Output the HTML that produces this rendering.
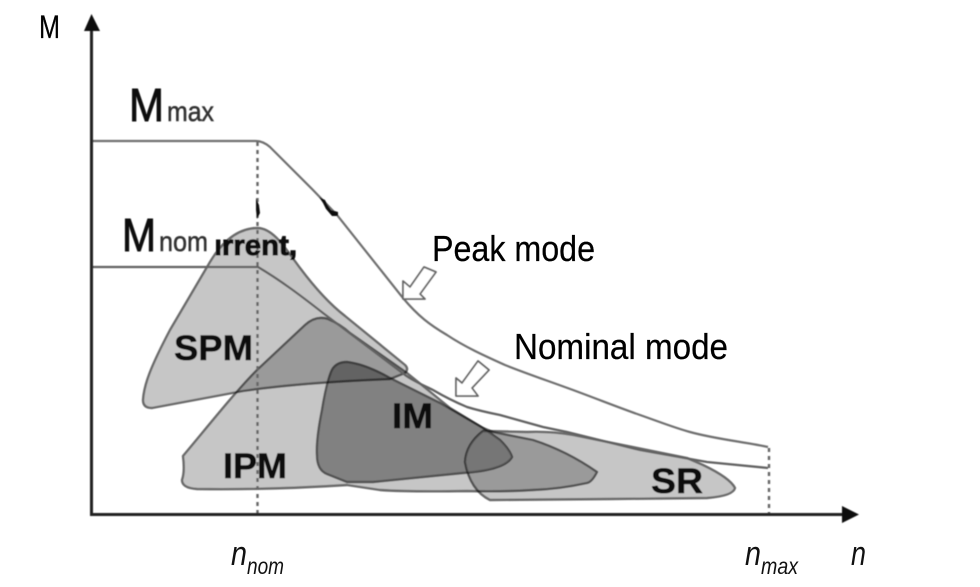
<!DOCTYPE html>
<html>
<head>
<meta charset="utf-8">
<style>
html,body{margin:0;padding:0;background:#fff;width:980px;height:587px;overflow:hidden}
svg{display:block}
text{font-family:"Liberation Sans",sans-serif}
.b{font-weight:bold;fill:#0a0a0a;font-size:35px;stroke:#0a0a0a;stroke-width:.5px}
.m{fill:#111;stroke:#111;stroke-width:.9px}
.t{fill:#333;stroke:#333;stroke-width:.5px}
.n{font-family:"Liberation Sans Narrow","Liberation Sans",sans-serif;fill:#000;stroke:#000;stroke-width:.25px}
.i{font-style:italic;fill:#111}
.s{mix-blend-mode:multiply;stroke:#6a6a6a;stroke-width:2.4;stroke-linejoin:round}
</style>
</head>
<body>
<svg width="980" height="587" viewBox="0 0 980 587" xmlns="http://www.w3.org/2000/svg">
<defs>
<filter id="f" x="-5%" y="-5%" width="110%" height="110%"><feGaussianBlur stdDeviation="0.6"/></filter>
<clipPath id="c"><rect x="216" y="236" width="90" height="30"/></clipPath>
<clipPath id="im"><path d="M347,362 Q335,362 331,372 Q326,385 322,410 Q316,440 317,455 Q317,470 327,474 L347,482 L373,482 L463,473 Q505,470 512,457 Q510,450 500,440 L483,428 L440,403 L390,378 Q365,364 347,362 Z"/></clipPath>
</defs>
<rect width="980" height="587" fill="#fff"/>
<g filter="url(#f)" style="isolation:isolate">
  <!-- SPM -->
  <path class="s" fill="#c6c6c6" d="M143,400 C144,385 150,368 170,330 L210,262 C222,242 238,228 258,228 C274,229 285,248 300,268 C318,292 332,306 345,316 L405,365 Q409,369 405,373 L390,379 C340,381 290,384 243,391 L152,408 Q143,408 143,400 Z"/>
  <!-- IPM -->
  <path class="s" fill="#c6c6c6" d="M183,456 C205,430 235,392 257,370 L305,325 Q316,315 328,319 Q340,324 350,333 L407,373 L450,408 L483,428 L493,432 L533,440 Q567,451 597,472 Q592,482 587,483 Q560,489 533,490 Q500,492 467,491 Q410,492 380,490 L347,485 Q270,490 197,489 Q182,488 182,480 Q185,472 183,456 Z"/>
  <!-- IM -->
  <path class="s" fill="#a6a6a6" d="M347,362 Q335,362 331,372 Q326,385 322,410 Q316,440 317,455 Q317,470 327,474 L347,482 L373,482 L463,473 Q505,470 512,457 Q510,450 500,440 L483,428 L440,403 L390,378 Q365,364 347,362 Z"/>
  <!-- SR -->
  <path class="s" fill="#c6c6c6" d="M465,462 Q466,444 483,431 L527,432 Q550,431 573,435 L687,458 L703,465 Q730,478 735,488 Q733,496 707,498 L610,499 L490,500 Q470,490 465,462 Z"/>
  <!-- Lighten the IM and SR overlap -->
  <g clip-path="url(#im)"><path fill="#fff" opacity=".12" d="M465,462 Q466,444 483,431 L527,432 L527,500 L490,500 Q470,490 465,462 Z"/></g>
  <!-- Curves -->
  <path fill="none" stroke="#707070" stroke-width="2.2" d="M92,141 L256,141 Q263,141 270,147 L313,190 L337,215 L403,298 C418,316 430,325 447,335 C465,347 485,356 505,365 C525,373 540,378 573,390 C600,400 620,408 640,415 C660,422 675,428 690,432 C715,439 745,442 768,447"/>
  <path fill="none" stroke="#626262" stroke-width="2.3" d="M92,267 L258,267 C280,280 300,295 323,313 L372,350 L405,375 C415,382 425,386 433,390 C445,397 455,402 467,407 C480,411 490,413 500,415 L543,427 L567,432 L640,450 L707,462 L768,468"/>
  <!-- Dashed guides -->
  <path fill="none" stroke="#666" stroke-width="2.400" stroke-dasharray="4 4" d="M257.500,142 V514 M769,448 V514"/>
  <!-- Hollow arrows -->
  <path fill="#fff" stroke="#666" stroke-width="1.800" stroke-linejoin="round" d="M403,299 L403,281 L410,287 L424,267 L436,272 L420,294 L425,299 Z"/>
  <path fill="#fff" stroke="#666" stroke-width="1.800" stroke-linejoin="round" d="M456,396 L456,378 L462,383 L478,361 L489,370 L472,388 L478,396 Z"/>
  <!-- Ink blobs -->
  <path fill="#111" d="M256,198 L259,205 L260,213 L257,219 L256,210 Z M319,197 L325,200 L327,204 L331,210 L338,212 L338,216 L332,216 L326,209 L323,203 Z"/>
  <!-- Clipped word -->
  <g clip-path="url(#c)"><text class="b" x="204" y="255" style="font-size:29px;stroke-width:1px" textLength="93" lengthAdjust="spacingAndGlyphs">urrent,</text></g>
  <!-- Region labels -->
  <text class="b" x="174" y="360" textLength="79" lengthAdjust="spacingAndGlyphs">SPM</text>
  <text class="b" x="223" y="478" textLength="64" lengthAdjust="spacingAndGlyphs">IPM</text>
  <text class="b" x="392" y="428" textLength="41" lengthAdjust="spacingAndGlyphs">IM</text>
  <text class="b" x="651" y="493" textLength="52" lengthAdjust="spacingAndGlyphs">SR</text>
  <!-- M labels -->
  <text class="m" x="129" y="121" font-size="46" textLength="35" lengthAdjust="spacingAndGlyphs">M</text>
  <text class="t" x="167" y="121" font-size="28" textLength="47" lengthAdjust="spacingAndGlyphs">max</text>
  <text class="m" x="122" y="251" font-size="46" textLength="34" lengthAdjust="spacingAndGlyphs">M</text>
  <text class="t" x="159" y="251" font-size="28" textLength="49" lengthAdjust="spacingAndGlyphs">nom</text>
</g>
<!-- Axes -->
<g filter="url(#f)">
<path fill="none" stroke="#222" stroke-width="3" d="M91.500,516 V28 M90,514.500 H846"/>
<path fill="#111" d="M91.500,14 L100,31 L84,31 Z M859,514.500 L842,506 L842,523 Z"/>
</g>
<!-- Crisp labels -->
<text class="n" x="39" y="38" font-size="32" textLength="21" lengthAdjust="spacingAndGlyphs">M</text>
<text class="n" x="432" y="261" font-size="36" textLength="163" lengthAdjust="spacingAndGlyphs">Peak mode</text>
<text class="n" x="514" y="359" font-size="36" textLength="214" lengthAdjust="spacingAndGlyphs">Nominal mode</text>
<text class="i" x="231" y="565" font-size="34" textLength="16" lengthAdjust="spacingAndGlyphs">n</text>
<text class="i" x="247" y="574" font-size="23" textLength="37" lengthAdjust="spacingAndGlyphs">nom</text>
<text class="i" x="745" y="565" font-size="34" textLength="16" lengthAdjust="spacingAndGlyphs">n</text>
<text class="i" x="761" y="574" font-size="23" textLength="37" lengthAdjust="spacingAndGlyphs">max</text>
<text class="i" x="851" y="565" font-size="34" textLength="15" lengthAdjust="spacingAndGlyphs">n</text>
</svg>
</body>
</html>
